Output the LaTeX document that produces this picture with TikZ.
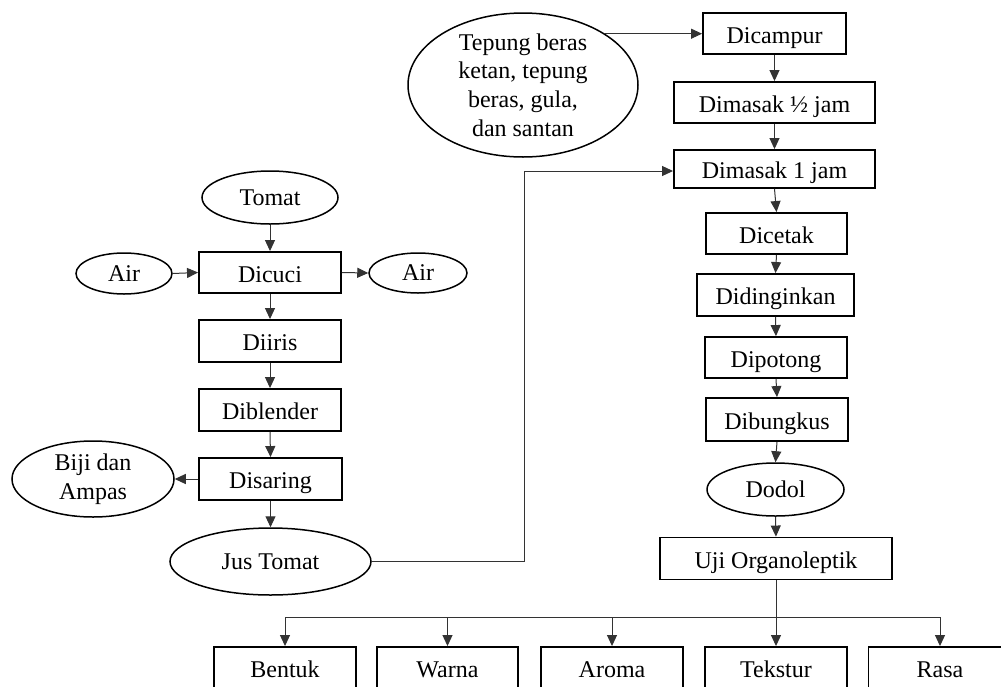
\documentclass[tikz,border=0pt]{standalone}
\usepackage{fontspec}
\setmainfont{Liberation Serif}
\usetikzlibrary{arrows.meta,shapes.geometric}
\begin{document}
\begin{tikzpicture}[x=0.5pt,y=-0.5pt,
  txt/.style={font=\fontsize{12}{14.3}\selectfont, align=center},
  box/.style={txt, draw, line width=0.95pt, inner sep=0pt, minimum height=20.5pt, text height=9.5pt, text depth=0pt},
  oval/.style={txt, draw, ellipse, line width=0.75pt, inner xsep=0pt, inner ysep=0pt},
  arr/.style={draw=black!80, line width=0.5pt, -{Triangle[length=5.5pt,width=5pt]}},
  ln/.style={draw=black!80, line width=0.5pt}]
\useasboundingbox (0,0) rectangle (1001,686);
\clip (0,0) rectangle (1001,686);

% right column
\node[oval, inner ysep=-12pt, minimum width=115pt, minimum height=72pt] (tepung) at (523,85) {Tepung beras\\ketan, tepung\\beras, gula,\\dan santan};
\node[box, minimum width=71.5pt] (dicampur) at (774.5,33.5) {Dicampur};
\node[box, minimum width=100.5pt] (masak1) at (774.5,102.5) {Dimasak ½ jam};
\node[box, minimum width=100.5pt, minimum height=19pt] (masak2) at (774.5,169) {Dimasak 1 jam};
\node[box, minimum width=70.5pt] (dicetak) at (776.5,233.5) {Dicetak};
\node[box, minimum width=78.5pt, minimum height=21pt] (didingin) at (775.5,295) {Didinginkan};
\node[box, minimum width=71pt] (dipotong) at (776,357.5) {Dipotong};
\node[box, minimum width=71pt, minimum height=21.5pt] (dibungkus) at (777,419.5) {Dibungkus};
\node[oval, minimum width=68.5pt, minimum height=26.5pt] (dodol) at (775.5,489.5) {Dodol};
\node[box, minimum width=116pt, minimum height=21pt] (uji) at (776,558.5) {Uji Organoleptik};

% left column
\node[oval, minimum width=68pt, minimum height=26.5pt] (tomat) at (270,197.5) {Tomat};
\node[box, minimum width=71pt] (dicuci) at (270,272.5) {Dicuci};
\node[oval, minimum width=48pt, minimum height=20.5pt] (airL) at (124,273.5) {Air};
\node[oval, minimum width=49pt, minimum height=20pt] (airR) at (418,273) {Air};
\node[box, minimum width=71pt, minimum height=21pt] (diiris) at (270,341) {Diiris};
\node[box, minimum width=71pt, minimum height=21pt] (diblender) at (270,410) {Diblender};
\node[box, minimum width=71.5pt, minimum height=21pt] (disaring) at (270.5,479) {Disaring};
\node[oval, minimum width=81pt, minimum height=38pt] (biji) at (93,479) {Biji dan\\Ampas};
\node[oval, minimum width=100.5pt, minimum height=33.5pt] (jus) at (270.5,561.5) {Jus Tomat};

% bottom row
\node[box, minimum width=71pt] (bentuk) at (285,667.5) {Bentuk};
\node[box, minimum width=70.5pt] (warna) at (447.5,667.5) {Warna};
\node[box, minimum width=71pt] (aroma) at (612,667.5) {Aroma};
\node[box, minimum width=71pt] (tekstur) at (776,667.5) {Tekstur};
\node[box, minimum width=71.5pt] (rasa) at (940,667.5) {Rasa};

\coordinate (jb) at (524,171);
\coordinate (bus) at (0,617);

% connectors right
\draw[arr] (tepung.32) -- (tepung.32 -| dicampur.west);
\draw[arr] (dicampur.south) -- (masak1.north);
\draw[arr] (masak1.south) -- (masak2.north);
\draw[arr] (masak2.south) -- (dicetak.north);
\draw[arr] (dicetak.south) -- (didingin.north);
\draw[arr] (didingin.south) -- (dipotong.north);
\draw[arr] (dipotong.south) -- (dibungkus.north);
\draw[arr] (dibungkus.south) -- (dodol.north);
\draw[arr] (dodol.south) -- (uji.north);

% connectors left
\draw[arr] (tomat.south) -- (dicuci.north);
\draw[arr] (airL.east) -- (dicuci.west);
\draw[arr] (dicuci.east) -- (airR.west);
\draw[arr] (dicuci.south) -- (diiris.north);
\draw[arr] (diiris.south) -- (diblender.north);
\draw[arr] (diblender.south) -- (disaring.north);
\draw[arr] (disaring.west) -- (biji.east);
\draw[arr] (disaring.south) -- (jus.north);
\draw[arr] (jus.east) -| (jb) -- (jb -| masak2.west);

% organoleptic bus
\draw[arr] (uji.south) -- (tekstur.north);
\draw[ln] (bentuk.north |- bus) -- (rasa.north |- bus);
\draw[arr] (bentuk.north |- bus) -- (bentuk.north);
\draw[arr] (warna.north |- bus) -- (warna.north);
\draw[arr] (aroma.north |- bus) -- (aroma.north);
\draw[arr] (rasa.north |- bus) -- (rasa.north);
\end{tikzpicture}
\end{document}
